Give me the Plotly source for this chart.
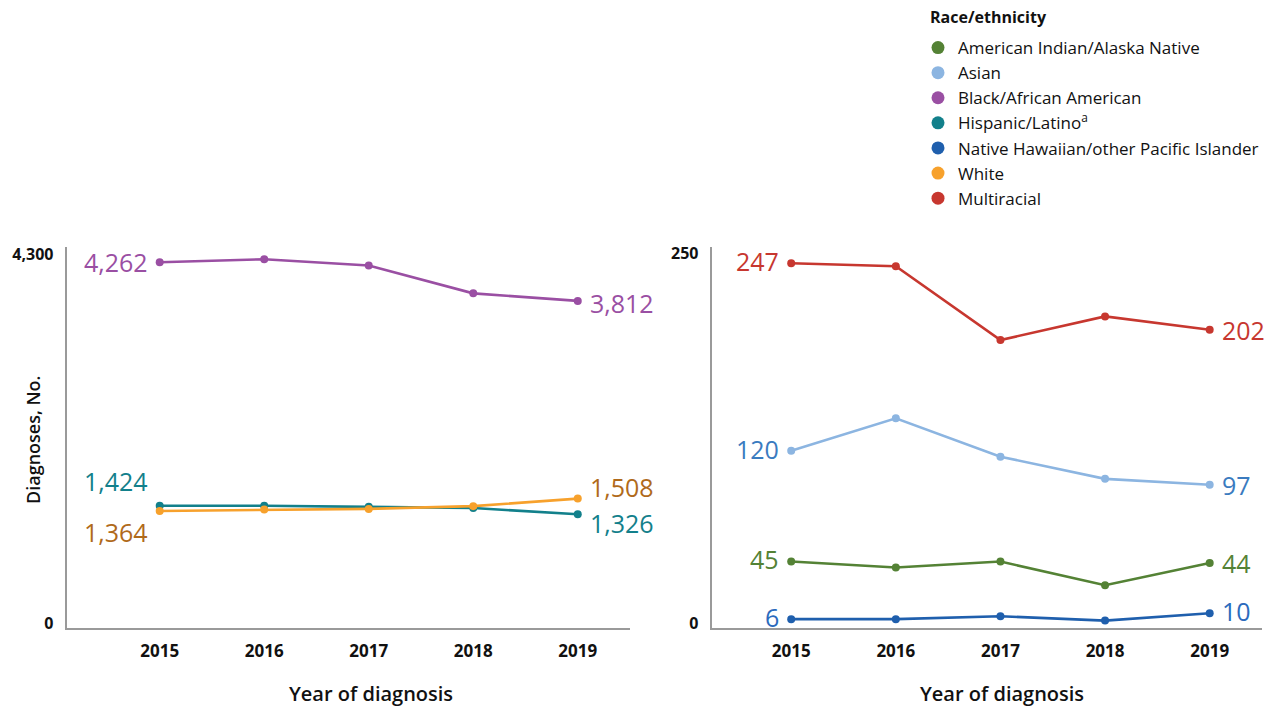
import plotly.graph_objects as go

# Years of diagnosis shown on both panels
years = [2015, 2016, 2017, 2018, 2019]

# Left panel: larger groups
black = [4262, 4297, 4225, 3900, 3812]
hispanic = [1424, 1424, 1412, 1398, 1326]
white = [1364, 1380, 1388, 1420, 1508]

# Right panel: smaller groups
multiracial = [247, 245, 195, 211, 202]
asian = [120, 142, 116, 101, 97]
aian = [45, 41, 45, 29, 44]
nhopi = [6, 6, 8, 5, 10]

left_ticks = [0, 4300]
right_ticks = [0, 250]

FONT = "Open Sans"
W, H = 1278, 708


def px_x(x):
    return x / W


def px_y(y):
    return 1 - y / H


# name, values, panel, line colour, label colour, label y-shift (first, last)
series = [
    ("American Indian/Alaska Native", aian, 2, "#548235", "#548235", (3, 0)),
    ("Asian", asian, 2, "#8cb5e1", "#3a7bbf", (2, 0)),
    ("Black/African American", black, 1, "#9a4fa3", "#9a4fa3", (0, -2)),
    ("Hispanic/Latino<sup>a</sup>", hispanic, 1, "#12808b", "#12808b", (25, -9)),
    ("Native Hawaiian/other Pacific Islander", nhopi, 2, "#1f5fad", "#2b6bbd", (2, 2)),
    ("White", white, 1, "#f7a12c", "#b06a1a", (-21, 12)),
    ("Multiracial", multiracial, 2, "#c7372f", "#c7372f", (2, 0)),
]

fig = go.Figure()
annotations = []

for rank, (name, vals, panel, color, lcolor, shifts) in enumerate(series):
    xa = "x" if panel == 1 else "x2"
    ya = "y" if panel == 1 else "y2"
    fig.add_trace(go.Scatter(
        x=years, y=vals, xaxis=xa, yaxis=ya, mode="lines+markers",
        line=dict(color=color, width=2.6), marker=dict(color=color, size=8),
        showlegend=False, hoverinfo="x+y", name=name,
    ))
    # legend entry: coloured dot only
    fig.add_trace(go.Scatter(
        x=[None], y=[None], mode="markers", name=name,
        marker=dict(color=color, size=13), legendgroup=f"g{rank}",
        legendrank=rank + 1, showlegend=True,
    ))
    # value labels at the first and last year
    for idx, anchor, xs, ys in ((0, "right", -10, shifts[0]), (-1, "left", 10, shifts[1])):
        annotations.append(dict(
            x=years[idx], y=vals[idx], xref=xa, yref=ya, text=f"{vals[idx]:,}",
            showarrow=False, xanchor=anchor, yanchor="middle", xshift=xs, yshift=ys,
            font=dict(family=FONT, size=25, color=lcolor),
        ))

# legend heading
annotations.append(dict(
    x=px_x(928), y=px_y(17), xref="paper", yref="paper", text="<b>Race/ethnicity</b>",
    showarrow=False, xanchor="left", yanchor="middle",
    font=dict(family=FONT, size=16, color="#111"),
))

# axis titles
for cx in (371, 1002):
    annotations.append(dict(
        x=px_x(cx), y=px_y(693), xref="paper", yref="paper", text="Year of diagnosis",
        showarrow=False, xanchor="center", yanchor="middle",
        font=dict(family=FONT, size=20, color="#111", weight=600),
    ))
annotations.append(dict(
    x=px_x(33), y=px_y(440), xref="paper", yref="paper", text="Diagnoses, No.",
    showarrow=False, textangle=-90, xanchor="center", yanchor="middle",
    font=dict(family=FONT, size=18, color="#111", weight=600),
))

y_dom = [px_y(628), px_y(247)]
xaxis_common = dict(
    tickmode="array", tickvals=years, ticktext=[str(y) for y in years],
    showgrid=False, zeroline=False, showline=True, linecolor="#9a9a9a", linewidth=2,
    ticks="", ticklabelstandoff=7, automargin=False,
    tickfont=dict(family=FONT, size=17, color="#111", weight="bold"),
)
yaxis_common = dict(
    showgrid=False, zeroline=False, showline=True, linecolor="#9a9a9a", linewidth=2,
    ticks="", ticklabelstandoff=8, ticklabelshift=-5, automargin=False,
    tickfont=dict(family=FONT, size=16, color="#111", weight="bold"),
    tickformat=",",
)

fig.update_layout(
    width=W, height=H,
    margin=dict(l=0, r=0, t=0, b=0, autoexpand=False),
    paper_bgcolor="white", plot_bgcolor="white",
    font=dict(family=FONT, color="#111"),
    xaxis=dict(domain=[px_x(66.7), px_x(630)], range=[2014.11, 2019.5], anchor="y", **xaxis_common),
    xaxis2=dict(domain=[px_x(711.7), px_x(1262)], range=[2014.24, 2019.5], anchor="y2", **xaxis_common),
    yaxis=dict(domain=y_dom, range=[0, 4440], anchor="x", tickmode="array",
               tickvals=left_ticks, **yaxis_common),
    yaxis2=dict(domain=y_dom, range=[0, 258], anchor="x2", tickmode="array",
                tickvals=right_ticks, **yaxis_common),
    legend=dict(
        x=px_x(918), y=px_y(30), xanchor="left", yanchor="top",
        font=dict(family=FONT, size=17, color="#111"),
        traceorder="grouped", tracegroupgap=0, itemwidth=30,
        bgcolor="rgba(0,0,0,0)",
    ),
    annotations=annotations,
    hovermode="closest",
)

fig.write_html("out.html")
